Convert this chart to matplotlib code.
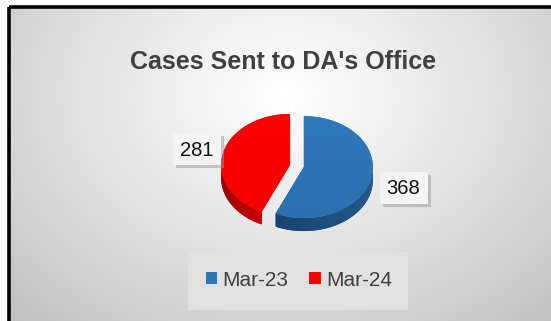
import numpy as np
import matplotlib
matplotlib.use("Agg")
import matplotlib.pyplot as plt
from matplotlib.patches import Polygon, Rectangle, Patch
from matplotlib.colors import LinearSegmentedColormap

plt.rcParams['font.family'] = ['Liberation Sans', 'DejaVu Sans']

# Data
title = "Cases Sent to DA's Office"
categories = ["Mar-23", "Mar-24"]
values = [368, 281]
colors = ["#2E75B6", "#FF0000"]
side_colors = [("#1a4470", "#24598c"), ("#9a0000", "#cc0000")]

W, H = 551, 321
fig = plt.figure(figsize=(W / 100, H / 100), dpi=100)
fig.patch.set_facecolor("white")
ax = fig.add_axes([0, 0, 1, 1])
ax.set_xlim(0, W)
ax.set_ylim(H, 0)
ax.axis("off")

# Radial gradient chart background
x0, y0 = 10, 8
xs = np.linspace(x0, W, 300)
ys = np.linspace(y0, H, 200)
X, Y = np.meshgrid(xs, ys)
r = np.sqrt(((X - 285) / 330) ** 2 + ((Y - 95) / 255) ** 2)
val = 1.0 - 0.24 * np.clip(r / 1.2, 0, 1) ** 1.1
ax.imshow(np.dstack([val, val, val]), extent=(x0, W, H, y0), aspect="auto",
          interpolation="bilinear", zorder=0)
# outer frame (top and left edges)
ax.plot([x0 - 1, W], [y0 - 1, y0 - 1], color="black", lw=2.6, zorder=1,
        solid_capstyle="butt")
ax.plot([x0 - 1, x0 - 1], [y0 - 1, H], color="black", lw=2.6, zorder=1,
        solid_capstyle="butt")

# Title
ax.text(283, 62, title, ha="center", va="center", fontsize=18,
        fontweight="bold", color="#404040", zorder=5)

# 3D-style pie
cx, cy = 297, 166
rx, ry = 69, 51
depth = 13
explode = 7.0
total = float(sum(values))


def rim(c, t):
    return c[0] + rx * np.cos(t), c[1] - ry * np.sin(t)


def grad_fill(poly, c1, c2, vertical=True, z=3):
    ax.add_patch(poly)
    cmap = LinearSegmentedColormap.from_list("g", [c1, c2])
    verts = poly.get_xy()
    xa, xb = verts[:, 0].min(), verts[:, 0].max()
    ya, yb = verts[:, 1].min(), verts[:, 1].max()
    g = np.linspace(0, 1, 100)
    arr = g[:, None] * np.ones((1, 2)) if vertical else np.ones((2, 1)) * g[None, :]
    im = ax.imshow(arr, cmap=cmap, extent=(xa, xb, yb, ya), aspect="auto",
                   zorder=z, interpolation="bilinear")
    im.set_clip_path(poly)


# slice angles (clockwise from 12 o'clock)
slices = []
start = np.pi / 2
for v, col, sc in zip(values, colors, side_colors):
    sweep = 2 * np.pi * v / total
    t1, t0 = start, start - sweep
    mid = (t0 + t1) / 2
    c = (cx + explode * np.cos(mid), cy - explode * (ry / rx) * np.sin(mid))
    slices.append((t0, t1, c, col, sc))
    start = t0

# sides first
for t0, t1, c, col, sc in slices:
    # visible front rim (angles where the rim faces the viewer)
    a0 = t0 % (2 * np.pi)
    a1 = a0 + (t1 - t0)
    lo, hi = max(a0, np.pi), min(a1, 2 * np.pi)
    if hi > lo:
        t = np.linspace(lo, hi, 80)
        px, py = rim(c, t)
        pts = np.vstack([np.column_stack([px, py]),
                         np.column_stack([px[::-1], py[::-1] + depth])])
        grad_fill(Polygon(pts, closed=True, fc=sc[0], ec="none", zorder=2),
                  sc[0], sc[1], vertical=False, z=2)
    # cut face on the clockwise edge, when it faces the front
    if np.sin(t0) < 0 and np.cos(t0) < 0:
        ex, ey = rim(c, t0)
        pts = [(c[0], c[1]), (ex, ey), (ex, ey + depth), (c[0], c[1] + depth)]
        ax.add_patch(Polygon(pts, closed=True, fc=sc[0], ec="none", zorder=2))

# top faces
for t0, t1, c, col, sc in slices:
    t = np.linspace(t0, t1, 120)
    px, py = rim(c, t)
    pts = np.vstack([[c], np.column_stack([px, py])])
    base = matplotlib.colors.to_rgb(col)
    top_c = tuple(min(1, v * 1.03) for v in base)
    bot_c = tuple(v * 0.96 for v in base)
    grad_fill(Polygon(pts, closed=True, fc=col, ec="none", zorder=3),
              top_c, bot_c, vertical=True, z=3)

# data labels with drop shadow
label_pos = [(403.5, 187.5), (197, 149)]
for (lx, ly), v in zip(label_pos, values):
    bw, bh = 48, 32
    ax.add_patch(Rectangle((lx - bw / 2 + 3, ly - bh / 2 + 3), bw, bh,
                           fc="#9a9a9a", ec="none", alpha=0.5, zorder=4))
    ax.add_patch(Rectangle((lx - bw / 2, ly - bh / 2), bw, bh,
                           fc="#f4f4f4", ec="none", zorder=4))
    ax.text(lx, ly + 1, f"{v}", ha="center", va="center", fontsize=14.5,
            color="#111111", zorder=5)

# legend
ax.add_patch(Rectangle((188, 252), 220, 58, fc="#e1e1e1", ec="none", zorder=4))
handles = [Patch(facecolor=col, edgecolor="none") for col in colors]
leg = ax.legend(handles, categories, loc="center", ncol=2,
                bbox_to_anchor=(299 / W, 1 - 280 / H), frameon=False,
                fontsize=15, handlelength=0.55, handleheight=0.55,
                handletextpad=0.25, columnspacing=1.0, labelcolor="#404040")
leg.set_zorder(6)

fig.savefig("out.png", dpi=100, facecolor=fig.get_facecolor())
